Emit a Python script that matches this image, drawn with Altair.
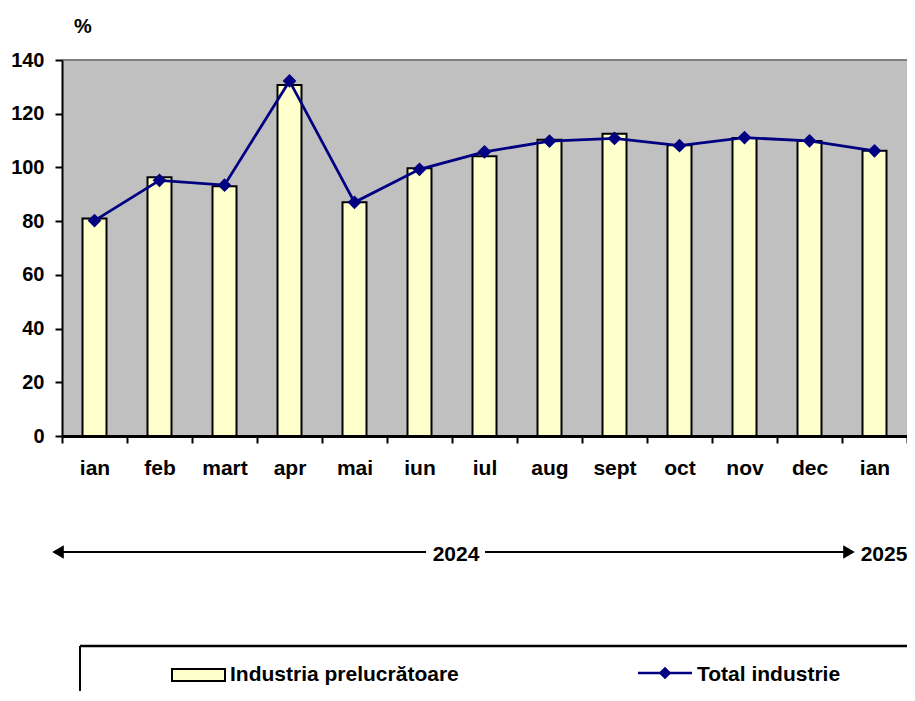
import altair as alt
import pandas as pd

months = ["ian", "feb", "mart", "apr", "mai", "iun", "iul", "aug", "sept", "oct", "nov", "dec", "ian"]
years = ["2024"] * 12 + ["2025"]
manufacturing = [81.0, 96.3, 93.0, 130.7, 87.0, 99.7, 104.2, 110.3, 112.5, 108.3, 111.0, 109.8, 106.2]
total = [80.2, 95.2, 93.4, 132.2, 87.0, 99.3, 105.8, 109.8, 110.8, 108.1, 111.1, 109.9, 106.2]
y_ticks = [0, 20, 40, 60, 80, 100, 120, 140]

keys = [f"{m} {y}" for m, y in zip(months, years)]
df = pd.DataFrame({"key": keys, "manuf": manufacturing, "total": total})

FONT = "Liberation Sans"
W, H = 845, 376
NAVY = "#000080"

x_axis = alt.Axis(title=None, labelExpr="split(datum.label, ' ')[0]", labelAngle=0,
                  tickBand="extent", tickSize=7, labelPadding=14, domainWidth=3,
                  tickWidth=2, zindex=1, labelFontSize=21)
y_axis = alt.Axis(title=None, values=y_ticks, grid=False, tickSize=7, labelPadding=11,
                  domainWidth=2, tickWidth=2, zindex=1, labelFontSize=20)
x_scale = alt.Scale(paddingInner=0, paddingOuter=0)
y_scale = alt.Scale(domain=[0, 140], nice=False)

base = alt.Chart(df)
bars = base.mark_bar(size=24, color="#FFFFCC", stroke="black", strokeWidth=2).encode(
    x=alt.X("key:N", sort=keys, scale=x_scale, axis=x_axis),
    y=alt.Y("manuf:Q", scale=y_scale, axis=y_axis),
)
line = base.mark_line(color=NAVY, strokeWidth=2.8).encode(
    x=alt.X("key:N", sort=keys, scale=x_scale, axis=x_axis),
    y=alt.Y("total:Q", scale=y_scale, axis=y_axis),
)
points = base.mark_point(shape="diamond", filled=True, size=190, color=NAVY, opacity=1).encode(
    x=alt.X("key:N", sort=keys, scale=x_scale, axis=x_axis),
    y=alt.Y("total:Q", scale=y_scale, axis=y_axis),
)

one = pd.DataFrame({"a": [0]})


def rule(x1, x2, y1, y2=None, color="black", width=2):
    enc = dict(x=alt.value(x1), x2=alt.value(x2), y=alt.value(y1))
    if y2 is not None:
        enc["y2"] = alt.value(y2)
    return alt.Chart(one).mark_rule(color=color, strokeWidth=width).encode(**enc)


def text(t, x, y, align="center", size=21):
    return alt.Chart(one).mark_text(
        text=t, font=FONT, fontWeight="bold", fontSize=size, color="black",
        align=align, baseline="alphabetic",
    ).encode(x=alt.value(x), y=alt.value(y))


def sym(shape, x, y, size, color="black"):
    return alt.Chart(one).mark_point(shape=shape, filled=True, size=size, color=color, opacity=1).encode(
        x=alt.value(x), y=alt.value(y))


top_border = rule(0, W, 0, color="#808080", width=2)

annotations = [
    text("%", 12, -27, align="left", size=20),
    # year arrow
    rule(-4, 364, 492),
    rule(423, 787, 492),
    sym("triangle-left", -4, 492, 180),
    sym("triangle-right", 787, 492, 180),
    text("2024", 394, 501),
    text("2025", 822, 501),
    # legend box
    rule(18, W, 586, width=2.5),
    rule(18, 18, 586, 640, width=2),
    alt.Chart(one).mark_rect(color="#FFFFCC", stroke="black", strokeWidth=2).encode(
        x=alt.value(110), x2=alt.value(163), y=alt.value(609), y2=alt.value(621)),
    text("Industria prelucrătoare", 168, 621, align="left"),
    rule(576, 630, 613, color=NAVY, width=2.5),
    sym("diamond", 603, 613, 160, color=NAVY),
    text("Total industrie", 635, 621, align="left"),
]

chart = alt.layer(bars, top_border, line, points, *annotations).properties(
    width=W, height=H,
    autosize=alt.AutoSizeParams(type="none"),
    padding={"left": 54, "top": 52, "right": 0, "bottom": 255},
).configure_axis(
    labelFont=FONT, labelFontWeight="bold", labelColor="black",
    domainColor="black", tickColor="black",
).configure_view(fill="#C0C0C0", stroke="transparent")

chart.save("out.html", embed_options={"renderer": "svg", "actions": False})
